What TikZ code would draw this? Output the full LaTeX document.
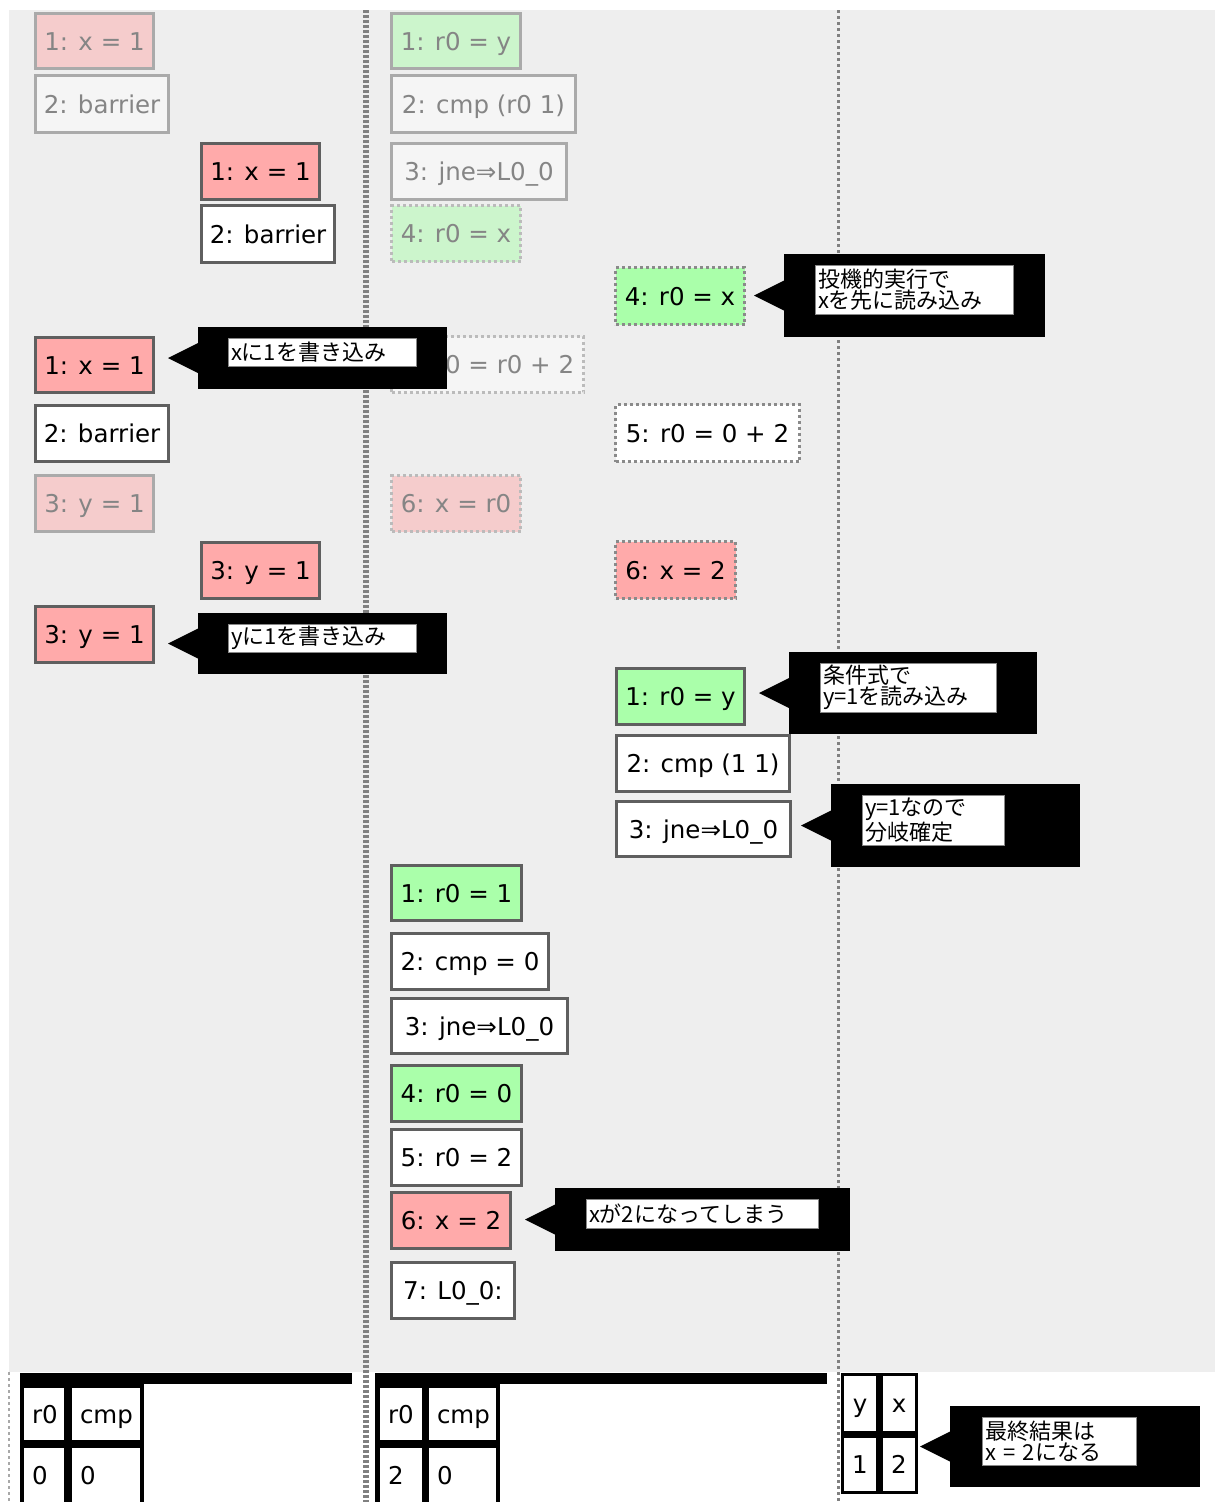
\documentclass[tikz,border=0pt]{standalone}
\usepackage{fontspec}
\setmainfont{DejaVu Sans}
\newfontfamily\jpfont{Noto Sans CJK JP}
\definecolor{bggray}{HTML}{EEEEEE}
\definecolor{pinkB}{HTML}{FFAAAA}
\definecolor{pinkF}{HTML}{F5CCCC}
\definecolor{greenB}{HTML}{AAFFAA}
\definecolor{greenF}{HTML}{CCF5CC}
\definecolor{whiteF}{HTML}{F5F5F5}
\definecolor{bdB}{HTML}{5F5F5F}
\definecolor{bdF}{HTML}{AAAAAA}
\definecolor{dotB}{HTML}{8A8A8A}
\definecolor{dotF}{HTML}{BBBBBB}
\definecolor{txtF}{HTML}{858585}
\definecolor{divider}{HTML}{808080}
\definecolor{divlight}{HTML}{A8A8A8}
\definecolor{cframe}{HTML}{888888}
\tikzset{
  op/.style={anchor=north west, inner sep=0pt, outer sep=0pt, line width=3pt,
    text height=22pt, text depth=4pt,
    font=\fontsize{24.5}{29}\selectfont},
  solidB/.style={op, draw=bdB, text=black},
  solidF/.style={op, draw=bdF, text=txtF},
  dotBs/.style={op, draw=dotB, dash pattern=on 3pt off 3pt, text=black},
  dotFs/.style={op, draw=dotF, dash pattern=on 3pt off 3pt, text=txtF},
  cbgst/.style={anchor=north west, fill=black, inner sep=0pt, outer sep=0pt},
  ctst/.style={anchor=north west, fill=white, draw=cframe, line width=1pt,
    inner xsep=3pt, inner ysep=0pt, outer sep=0pt, align=left,
    font=\jpfont\fontsize{22}{21}\selectfont},
  cellst/.style={anchor=north west, fill=white, inner xsep=8pt, inner ysep=0pt,
    outer sep=0pt, text height=22pt, text depth=4pt,
    font=\fontsize{24.5}{29}\selectfont},
}
\newcommand\opbox[7]{%
  \pgfmathsetmacro\myopw{#4-#2-3}\pgfmathsetmacro\myoph{#5-#3-3}%
  \node[#6, minimum width=\myopw pt, minimum height=\myoph pt] (#1) at ({#2+1.5},{#3+1.5}) {#7};}
\newcommand\cbg[5]{%
  \pgfmathsetmacro\mycw{#4-#2}\pgfmathsetmacro\mych{#5-#3}%
  \node[cbgst, minimum width=\mycw pt, minimum height=\mych pt] (#1) at (#2,#3) {};%
  \fill[black] ([yshift=15pt]#1.west) -- ([xshift=-30pt]#1.west) -- ([yshift=-15pt]#1.west) -- cycle;}
\newcommand\ctext[6]{%
  \pgfmathsetmacro\mycw{#4-#2}\pgfmathsetmacro\mych{#5-#3}\pgfmathsetmacro\mytw{#4-#2-6}%
  \node[ctst, minimum width=\mycw pt, minimum height=\mych pt, text width=\mytw pt] (#1) at (#2,#3) {#6};}
\newcommand\tcell[7]{%
  \pgfmathsetmacro\mych{#5-#3}\pgfmathsetmacro\mytw{#4-#2-16}%
  \node[cellst, minimum height=\mych pt, text width=\mytw pt, align=#6] (#1) at (#2,#3) {#7};}
\begin{document}
\begin{tikzpicture}[x=1pt,y=-1pt]
\useasboundingbox (0,0) rectangle (1215,1502);
\fill[white] (0,0) rectangle (1215,1502);
\fill[bggray] (9,10) rectangle (1215,1372);
% dividers
\draw[divider, line width=6pt, dash pattern=on 3pt off 2pt] (366,10) -- (366,1502);
\draw[divider, line width=3pt, dash pattern=on 3pt off 3pt] (838,10) -- (838,1502);
\draw[divlight, line width=2pt, dash pattern=on 3pt off 3pt] (9,1372) -- (9,1502);

% column 1
\opbox{a1}{34}{12}{155}{70}{solidF, fill=pinkF}{1: x = 1}
\opbox{a2}{34}{74}{170}{134}{solidF, fill=whiteF}{2: barrier}
\opbox{a3}{200}{142}{321}{201}{solidB, fill=pinkB}{1: x = 1}
\opbox{a4}{200}{204}{336}{264}{solidB, fill=white}{2: barrier}
\opbox{a5}{34}{336}{155}{394}{solidB, fill=pinkB}{1: x = 1}
\opbox{a6}{34}{404}{170}{463}{solidB, fill=white}{2: barrier}
\opbox{a7}{34}{474}{155}{533}{solidF, fill=pinkF}{3: y = 1}
\opbox{a8}{200}{541}{321}{600}{solidB, fill=pinkB}{3: y = 1}
\opbox{a9}{34}{605}{155}{664}{solidB, fill=pinkB}{3: y = 1}

% column 2
\opbox{b1}{390}{12}{522}{70}{solidF, fill=greenF}{1: r0 = y}
\opbox{b2}{390}{74}{577}{134}{solidF, fill=whiteF}{2: cmp (r0 1)}
\opbox{b3}{390}{142}{568}{201}{solidF, fill=whiteF}{3: jne⇒L0\_0}
\opbox{b4}{390}{204}{522}{263}{dotFs, fill=greenF}{4: r0 = x}
\opbox{b5}{390}{335}{585}{394}{dotFs, fill=whiteF}{5: r0 = r0 + 2}
\opbox{b6}{390}{474}{522}{533}{dotFs, fill=pinkF}{6: x = r0}
\opbox{b7}{390}{864}{523}{922}{solidB, fill=greenB}{1: r0 = 1}
\opbox{b8}{390}{932}{550}{991}{solidB, fill=white}{2: cmp = 0}
\opbox{b9}{390}{997}{569}{1055}{solidB, fill=white}{3: jne⇒L0\_0}
\opbox{b10}{390}{1064}{523}{1123}{solidB, fill=greenB}{4: r0 = 0}
\opbox{b11}{390}{1128}{523}{1187}{solidB, fill=white}{5: r0 = 2}
\opbox{b12}{390}{1191}{512}{1250}{solidB, fill=pinkB}{6: x = 2}
\opbox{b13}{390}{1261}{516}{1320}{solidB, fill=white}{7: L0\_0:}

% column 3
\opbox{c1}{614}{266}{746}{326}{dotBs, fill=greenB}{4: r0 = x}
\opbox{c2}{614}{403}{801}{463}{dotBs, fill=white}{5: r0 = 0 + 2}
\opbox{c3}{614}{540}{737}{600}{dotBs, fill=pinkB}{6: x = 2}
\opbox{c4}{615}{667}{746}{726}{solidB, fill=greenB}{1: r0 = y}
\opbox{c5}{615}{734}{791}{793}{solidB, fill=white}{2: cmp (1 1)}
\opbox{c6}{615}{800}{792}{858}{solidB, fill=white}{3: jne⇒L0\_0}

% callouts
\cbg{k1bg}{198}{327}{447}{389}
\ctext{k1}{228}{338}{416}{366}{xに1を書き込み}
\cbg{k2bg}{198}{613}{447}{674}
\ctext{k2}{228}{624}{416}{652}{yに1を書き込み}
\cbg{k3bg}{784}{254}{1045}{337}
\ctext{k3}{815}{265}{1013}{314}{投機的実行で\\xを先に読み込み}
\cbg{k4bg}{789}{652}{1037}{734}
\ctext{k4}{820}{663}{996}{712}{条件式で\\y=1を読み込み}
\cbg{k5bg}{831}{784}{1080}{867}
\ctext{k5}{862}{795}{1004}{845}{y=1なので\\分岐確定}
\cbg{k6bg}{555}{1188}{850}{1251}
\ctext{k6}{586}{1199}{818}{1228}{xが2になってしまう}

% bottom tables
\fill[black] (20,1373) rectangle (352,1384);
\fill[black] (20,1373) rectangle (144,1502);
\tcell{t1a}{24}{1388}{64}{1440}{left}{r0}
\tcell{t1b}{72}{1388}{140}{1440}{left}{cmp}
\tcell{t1c}{24}{1448}{64}{1502}{left}{0}
\tcell{t1d}{72}{1448}{140}{1502}{left}{0}

\fill[black] (375,1373) rectangle (827,1384);
\fill[black] (375,1373) rectangle (500,1502);
\tcell{t2a}{380}{1388}{422}{1440}{left}{r0}
\tcell{t2b}{429}{1388}{496}{1440}{left}{cmp}
\tcell{t2c}{380}{1448}{422}{1502}{left}{2}
\tcell{t2d}{429}{1448}{496}{1502}{left}{0}

\fill[black] (841,1373) rectangle (918,1494);
\tcell{t3a}{844}{1376}{876}{1431}{center}{y}
\tcell{t3b}{883}{1376}{915}{1431}{center}{x}
\tcell{t3c}{844}{1438}{876}{1491}{center}{1}
\tcell{t3d}{883}{1438}{915}{1491}{center}{2}

\cbg{k7bg}{950}{1406}{1200}{1487}
\ctext{k7}{982}{1417}{1136}{1465}{最終結果は\\x = 2になる}
\end{tikzpicture}
\end{document}
